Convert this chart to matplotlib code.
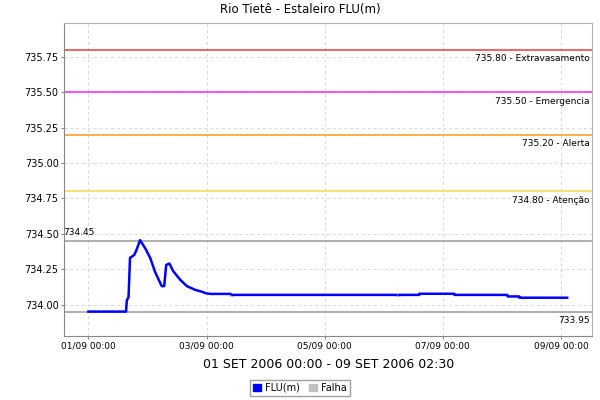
import matplotlib
matplotlib.use('Agg')
import matplotlib.pyplot as plt
import matplotlib.dates as mdates
import numpy as np
import pandas as pd
from matplotlib.patches import Patch

# level readings, hours after 01/09/2006 00:00 (NaN = no data)
hours = [0, 15.3, 15.6, 16.3, 16.9, 18.6, 19.4, 21.0, 23.0, 25.1, 27.1, 29.1, 29.8,
         30.8, 31.6, 32.9, 34.5, 37.3, 40.0, 43.2, 46.7, 47.5, 49.6, 57.6,
         57.7, 58.5, 125.0, 125.1, 126.2, 134.4, 134.5, 148.6, 148.7, 170.2, 170.3,
         175.0, 175.1, 194.5]
values = [733.95, 733.95, 734.03, 734.05, 734.33, 734.35, 734.38, 734.455, 734.40, 734.33,
          734.23, 734.155, 734.13, 734.13, 734.28, 734.29, 734.235, 734.175, 734.13,
          734.105, 734.087, 734.08, 734.075, 734.075, np.nan, 734.068, 734.068, np.nan,
          734.068, 734.068, 734.076, 734.076, 734.068, 734.068, 734.057, 734.057,
          734.048, 734.048]
# gaps (Falha): start hour, end hour, level
falha = [(57.6, 58.5, 734.07), (125.0, 126.2, 734.068)]

# reference levels
ref_values = [735.80, 735.50, 735.20, 734.80, 734.45, 733.95]
ref_labels = ['735.80 - Extravasamento', '735.50 - Emergencia', '735.20 - Alerta',
              '734.80 - Atenção', '734.45', '733.95']
ref_colors = ['#e83c3c', '#ff22ff', '#ff9a1a', '#ffd54a', '#999999', '#999999']

t0 = pd.Timestamp('2006-09-01 00:00')
times = [t0 + pd.Timedelta(hours=h) for h in hours]

fig = plt.figure(figsize=(6, 4), dpi=100)
ax = fig.add_axes([0.107, 0.161, 0.88, 0.781])

for v, lab, c in zip(ref_values, ref_labels, ref_colors):
    ax.axhline(v, color=c, lw=1.1, zorder=2)
    if lab == '734.45':
        ax.annotate(lab, xy=(0, v), xycoords=('axes fraction', 'data'),
                    xytext=(-1, 3), textcoords='offset points',
                    ha='left', va='bottom', fontsize=6.5)
    else:
        ax.annotate(lab, xy=(1, v), xycoords=('axes fraction', 'data'),
                    xytext=(-2, -3), textcoords='offset points',
                    ha='right', va='top', fontsize=6.5)

ax.plot(times, values, color='#0000ff', lw=1.8, zorder=4)
for a, b, v in falha:
    ax.plot([t0 + pd.Timedelta(hours=a), t0 + pd.Timedelta(hours=b)], [v, v],
            color='#c0c0c0', lw=1.8, zorder=3)

ax.set_ylim(733.78, 735.99)
ax.set_xlim(pd.Timestamp('2006-08-31 14:10'), pd.Timestamp('2006-09-09 12:40'))
ax.set_yticks(np.arange(734.0, 735.8, 0.25))
ax.yaxis.set_major_formatter(plt.FormatStrFormatter('%.2f'))
ax.xaxis.set_major_locator(mdates.DayLocator(bymonthday=[1, 3, 5, 7, 9]))
ax.xaxis.set_major_formatter(mdates.DateFormatter('%d/%m %H:%M'))
ax.tick_params(labelsize=6.5, length=2, color='#888888', pad=2)
ax.tick_params(axis='y', labelsize=7)
ax.grid(True, color='#d8d8d8', ls=(0, (3, 3)), lw=0.7, zorder=0)
for s in ['top', 'right']:
    ax.spines[s].set_color('#b0b0b0')
for s in ['left', 'bottom']:
    ax.spines[s].set_color('#888888')

fig.text(0.5, 0.975, 'Rio Tietê - Estaleiro FLU(m)', ha='center', va='center', fontsize=8.5)
fig.text(0.547, 0.088, '01 SET 2006 00:00 - 09 SET 2006 02:30', ha='center', va='center', fontsize=9)

handles = [Patch(color='#0000ff', label='FLU(m)'), Patch(color='#c0c0c0', label='Falha')]
fig.legend(handles=handles, loc='center', bbox_to_anchor=(0.5, 0.03), ncol=2, fontsize=7,
           frameon=True, fancybox=False, edgecolor='#888888', handlelength=0.8, handleheight=0.8,
           handletextpad=0.4, columnspacing=1.0, borderpad=0.3)

fig.savefig('out.png', dpi=100)
